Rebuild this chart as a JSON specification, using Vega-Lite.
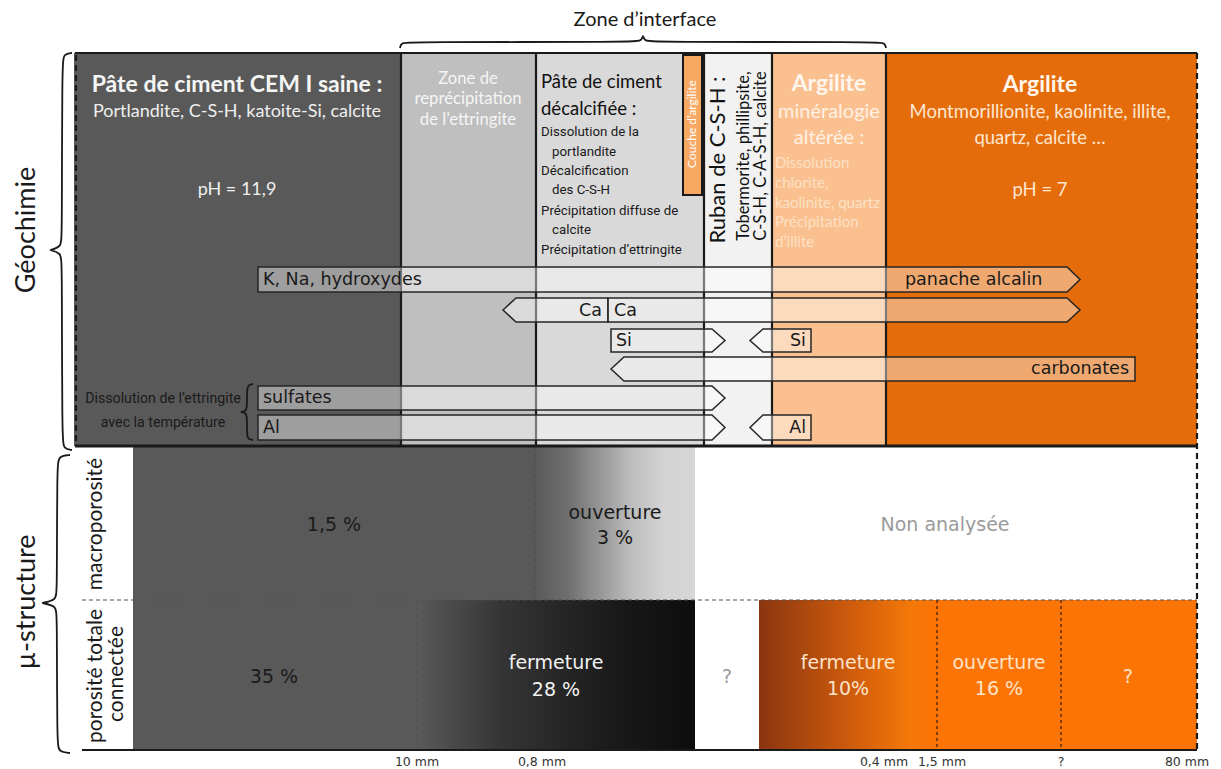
{
"$schema": "https://vega.github.io/schema/vega-lite/v6.json",
"width": 1221, "height": 769, "padding": 0,
"autosize": {"type": "fit", "contains": "padding"},
"background": "white",
"config": {"view": {"stroke": null}},
"datasets": {
"zones": [
{"x":74,"x2":401,"y":53,"y2":446,"c":"ciment sain"},
{"x":401,"x2":536,"y":53,"y2":446,"c":"reprecipitation"},
{"x":536,"x2":704,"y":53,"y2":446,"c":"decalcifiee"},
{"x":704,"x2":772,"y":53,"y2":446,"c":"ruban"},
{"x":772,"x2":886,"y":53,"y2":446,"c":"argilite alteree"},
{"x":886,"x2":1197,"y":53,"y2":446,"c":"argilite"},
{"x":133,"x2":535,"y":446,"y2":600,"c":"ciment sain"},
{"x":133,"x2":417,"y":600,"y2":750,"c":"ciment sain"},
{"x":937,"x2":1197,"y":600,"y2":750,"c":"argilite poreuse"}
],
"gradMacro": [{"x":535,"x2":695,"y":446,"y2":600}],
"gradPoro": [{"x":417,"x2":695,"y":600,"y2":750}],
"gradOrange": [{"x":759,"x2":937,"y":600,"y2":750}],
"couche": [{"x":683,"x2":702,"y":55,"y2":195}],
"solid": [
{"x":75,"x2":1197,"y":53,"y2":53},
{"x":401,"x2":401,"y":53,"y2":446},
{"x":536,"x2":536,"y":53,"y2":446},
{"x":704,"x2":704,"y":53,"y2":446},
{"x":772,"x2":772,"y":53,"y2":446},
{"x":886,"x2":886,"y":53,"y2":446},
{"x":82,"x2":1197,"y":750,"y2":750}
],
"thick": [{"x":75,"x2":1197,"y":446,"y2":446}],
"dashBlack": [{"x":76,"x2":76,"y":55,"y2":446},{"x":1197,"x2":1197,"y":53,"y2":750}],
"dashGray": [{"x":535,"x2":535,"y":446,"y2":600},{"x":417,"x2":417,"y":600,"y2":750},{"x":82,"x2":1197,"y":600,"y2":600}],
"dashOrange": [{"x":937,"x2":937,"y":600,"y2":750},{"x":1061,"x2":1061,"y":600,"y2":750}],
"arrows": [
{"id":"KNa","x":258,"y":267,"y2":292},{"id":"KNa","x":1067,"y":267,"y2":292},{"id":"KNa","x":1080,"y":279.5,"y2":279.5},
{"id":"CaL","x":503,"y":310,"y2":310},{"id":"CaL","x":516,"y":298,"y2":322},{"id":"CaL","x":608,"y":298,"y2":322},
{"id":"CaR","x":608,"y":298,"y2":322},{"id":"CaR","x":1067,"y":298,"y2":322},{"id":"CaR","x":1080,"y":310,"y2":310},
{"id":"SiR","x":611,"y":329,"y2":352},{"id":"SiR","x":712,"y":329,"y2":352},{"id":"SiR","x":725,"y":340.5,"y2":340.5},
{"id":"SiL","x":750,"y":340.5,"y2":340.5},{"id":"SiL","x":763,"y":329,"y2":352},{"id":"SiL","x":811,"y":329,"y2":352},
{"id":"carb","x":611,"y":369,"y2":369},{"id":"carb","x":624,"y":357,"y2":381},{"id":"carb","x":1135,"y":357,"y2":381},
{"id":"sulf","x":258,"y":386,"y2":410},{"id":"sulf","x":712,"y":386,"y2":410},{"id":"sulf","x":725,"y":398,"y2":398},
{"id":"AlR","x":258,"y":415,"y2":440},{"id":"AlR","x":712,"y":415,"y2":440},{"id":"AlR","x":725,"y":427.5,"y2":427.5},
{"id":"AlL","x":750,"y":427.5,"y2":427.5},{"id":"AlL","x":763,"y":415,"y2":440},{"id":"AlL","x":811,"y":415,"y2":440}
],
"braces": [
{"id":"g","i":0,"x":72,"y":53},{"id":"g","i":1,"x":64,"y":54},{"id":"g","i":2,"x":62,"y":62},{"id":"g","i":3,"x":62,"y":238},{"id":"g","i":4,"x":61,"y":247},{"id":"g","i":5,"x":50,"y":250},{"id":"g","i":6,"x":50,"y":250},{"id":"g","i":7,"x":61,"y":253},{"id":"g","i":8,"x":62,"y":262},{"id":"g","i":9,"x":62,"y":440},{"id":"g","i":10,"x":64,"y":449},{"id":"g","i":11,"x":72,"y":450},
{"id":"m","i":0,"x":70,"y":455},{"id":"m","i":1,"x":59,"y":456},{"id":"m","i":2,"x":57,"y":464},{"id":"m","i":3,"x":57,"y":592},{"id":"m","i":4,"x":56,"y":600},{"id":"m","i":5,"x":42,"y":603},{"id":"m","i":6,"x":42,"y":603},{"id":"m","i":7,"x":56,"y":606},{"id":"m","i":8,"x":57,"y":614},{"id":"m","i":9,"x":57,"y":744},{"id":"m","i":10,"x":59,"y":752},{"id":"m","i":11,"x":70,"y":753},
{"id":"e","i":0,"x":253,"y":384},{"id":"e","i":1,"x":248,"y":385},{"id":"e","i":2,"x":247,"y":390},{"id":"e","i":3,"x":247,"y":407},{"id":"e","i":4,"x":246,"y":411},{"id":"e","i":5,"x":241,"y":412},{"id":"e","i":6,"x":241,"y":412},{"id":"e","i":7,"x":246,"y":413},{"id":"e","i":8,"x":247,"y":417},{"id":"e","i":9,"x":247,"y":435},{"id":"e","i":10,"x":248,"y":439},{"id":"e","i":11,"x":253,"y":440},
{"id":"z","i":0,"x":400,"y":48},{"id":"z","i":1,"x":401,"y":43},{"id":"z","i":2,"x":408,"y":42},{"id":"z","i":3,"x":634,"y":42},{"id":"z","i":4,"x":641,"y":41},{"id":"z","i":5,"x":643,"y":36},{"id":"z","i":6,"x":643,"y":36},{"id":"z","i":7,"x":645,"y":41},{"id":"z","i":8,"x":652,"y":42},{"id":"z","i":9,"x":878,"y":42},{"id":"z","i":10,"x":885,"y":43},{"id":"z","i":11,"x":886,"y":48}
],
"tTitleWhite": [{"x":237,"y":85,"t":"Pâte de ciment CEM I saine :"}],
"tTitleArg": [{"x":1040,"y":85,"t":"Argilite"},{"x":829,"y":84,"t":"Argilite"}],
"tBodyWhite": [{"x":237,"y":112,"t":"Portlandite, C-S-H, katoite-Si, calcite"},{"x":237,"y":190,"t":"pH = 11,9"}],
"tBodyArg": [{"x":1040,"y":112,"t":"Montmorillionite, kaolinite, illite,"},{"x":1040,"y":138,"t":"quartz, calcite …"},{"x":1040,"y":190,"t":"pH = 7"}],
"tMinera": [{"x":829,"y":112,"t":"minéralogie"},{"x":829,"y":138,"t":"altérée :"}],
"tZone2": [{"x":468,"y":79,"t":"Zone de"},{"x":468,"y":99,"t":"reprécipitation"},{"x":468,"y":120,"t":"de l’ettringite"}],
"tZone3Title": [{"x":541,"y":82,"t":"Pâte de ciment"},{"x":541,"y":109,"t":"décalcifiée :"}],
"tZone3List": [{"x":541,"y":132,"t":"Dissolution de la"},{"x":552,"y":152,"t":"portlandite"},{"x":541,"y":171,"t":"Décalcification"},{"x":552,"y":190,"t":"des C-S-H"},{"x":541,"y":211,"t":"Précipitation diffuse de"},{"x":552,"y":230,"t":"calcite"},{"x":541,"y":250,"t":"Précipitation d’ettringite"}],
"tZone5List": [{"x":775,"y":163,"t":"Dissolution"},{"x":775,"y":183,"t":"chlorite,"},{"x":775,"y":203,"t":"kaolinite, quartz"},{"x":775,"y":222,"t":"Précipitation"},{"x":775,"y":242,"t":"d’illite"}],
"tEttr": [{"x":163,"y":399,"t":"Dissolution de l’ettringite"},{"x":163,"y":423,"t":"avec la température"}],
"tRuban": [{"x":718,"y":160,"t":"Ruban de C-S-H :"}],
"tRubanSub": [{"x":744,"y":156,"t":"Tobermorite, phillipsite,"},{"x":761,"y":156,"t":"C-S-H, C-A-S-H, calcite"}],
"tCouche": [{"x":692,"y":124,"t":"Couche d’argilite"}],
"tArrowL": [{"x":263,"y":280,"t":"K, Na, hydroxydes"},{"x":905,"y":280,"t":"panache alcalin"},{"x":614,"y":311,"t":"Ca"},{"x":616,"y":341,"t":"Si"},{"x":263,"y":398,"t":"sulfates"},{"x":263,"y":428,"t":"Al"}],
"tArrowR": [{"x":602,"y":311,"t":"Ca"},{"x":806,"y":341,"t":"Si"},{"x":1129,"y":369,"t":"carbonates"},{"x":806,"y":428,"t":"Al"}],
"tInterface": [{"x":645,"y":20,"t":"Zone d’interface"}],
"tSection": [{"x":27,"y":230,"t":"Géochimie"},{"x":27,"y":602,"t":"µ-structure"}],
"tRow": [{"x":96,"y":524,"t":"macroporosité"},{"x":96,"y":676,"t":"porosité totale"},{"x":117,"y":674,"t":"connectée"}],
"tBottomDark": [{"x":334,"y":525,"t":"1,5 %"},{"x":615,"y":513,"t":"ouverture"},{"x":615,"y":538,"t":"3 %"},{"x":274,"y":677,"t":"35 %"}],
"tBottomWhite": [{"x":556,"y":663,"t":"fermeture"},{"x":556,"y":690,"t":"28 %"}],
"tBottomPeach": [{"x":848,"y":663,"t":"fermeture"},{"x":848,"y":689,"t":"10%"},{"x":999,"y":663,"t":"ouverture"},{"x":999,"y":689,"t":"16 %"},{"x":1128,"y":677,"t":"?"}],
"tBottomGray": [{"x":945,"y":525,"t":"Non analysée"},{"x":727,"y":677,"t":"?"}],
"tTicks": [{"x":417,"y":762,"t":"10 mm"},{"x":542,"y":762,"t":"0,8 mm"},{"x":884,"y":762,"t":"0,4 mm"},{"x":942,"y":762,"t":"1,5 mm"},{"x":1061,"y":762,"t":"?"},{"x":1187,"y":762,"t":"80 mm"}]
},
"encoding": {
"x": {"field":"x","type":"quantitative","scale":{"domain":[0,1221],"nice":false,"zero":false},"axis":null},
"y": {"field":"y","type":"quantitative","scale":{"domain":[0,769],"nice":false,"zero":false,"reverse":true},"axis":null}
},
"layer": [
{"data":{"name":"zones"},"mark":{"type":"rect"},
 "encoding":{"x2":{"field":"x2"},"y2":{"field":"y2"},
 "color":{"field":"c","type":"nominal","legend":null,"scale":{"domain":["ciment sain","reprecipitation","decalcifiee","ruban","argilite alteree","argilite","argilite poreuse"],"range":["#595959","#bfbfbf","#d9d9d9","#f2f2f2","#fac090","#e46c0a","#fc7405"]}}}},
{"data":{"name":"gradMacro"},"mark":{"type":"rect","fill":{"gradient":"linear","x1":0,"y1":0,"x2":1,"y2":0,"stops":[{"offset":0,"color":"#5a5a5a"},{"offset":0.2,"color":"#6e6e6e"},{"offset":0.6,"color":"#bdbdbd"},{"offset":0.8,"color":"#d3d3d3"},{"offset":1,"color":"#d6d6d6"}]}},
 "encoding":{"x2":{"field":"x2"},"y2":{"field":"y2"}}},
{"data":{"name":"gradPoro"},"mark":{"type":"rect","fill":{"gradient":"linear","x1":0,"y1":0,"x2":1,"y2":0,"stops":[{"offset":0,"color":"#5a5a5a"},{"offset":0.3,"color":"#353535"},{"offset":0.7,"color":"#1a1a1a"},{"offset":1,"color":"#0d0d0d"}]}},
 "encoding":{"x2":{"field":"x2"},"y2":{"field":"y2"}}},
{"data":{"name":"gradOrange"},"mark":{"type":"rect","fill":{"gradient":"linear","x1":0,"y1":0,"x2":1,"y2":0,"stops":[{"offset":0,"color":"#8a3510"},{"offset":0.5,"color":"#cc5a0c"},{"offset":0.85,"color":"#f47808"},{"offset":1,"color":"#fc7405"}]}},
 "encoding":{"x2":{"field":"x2"},"y2":{"field":"y2"}}},
{"data":{"name":"couche"},"mark":{"type":"rect","fill":"#f7a863","stroke":"#1a1a1a","strokeWidth":2},
 "encoding":{"x2":{"field":"x2"},"y2":{"field":"y2"}}},
{"data":{"name":"dashGray"},"mark":{"type":"rule","color":"#505050","strokeWidth":1.2,"strokeDash":[4,3]},
 "encoding":{"x2":{"field":"x2"},"y2":{"field":"y2"}}},
{"data":{"name":"dashOrange"},"mark":{"type":"rule","color":"#5a2e10","strokeWidth":1.5,"strokeDash":[3,3]},
 "encoding":{"x2":{"field":"x2"},"y2":{"field":"y2"}}},
{"data":{"name":"solid"},"mark":{"type":"rule","color":"#1a1a1a","strokeWidth":2.2},
 "encoding":{"x2":{"field":"x2"},"y2":{"field":"y2"}}},
{"data":{"name":"thick"},"mark":{"type":"rule","color":"#1a1a1a","strokeWidth":3},
 "encoding":{"x2":{"field":"x2"},"y2":{"field":"y2"}}},
{"data":{"name":"dashBlack"},"mark":{"type":"rule","color":"#1a1a1a","strokeWidth":2.2,"strokeDash":[6,4]},
 "encoding":{"x2":{"field":"x2"},"y2":{"field":"y2"}}},
{"data":{"name":"arrows"},"mark":{"type":"area","fill":"#ffffff","fillOpacity":0.42,"stroke":"#262626","strokeWidth":1.5},
 "encoding":{"y2":{"field":"y2"},"detail":{"field":"id"}}},
{"data":{"name":"braces"},"mark":{"type":"line","color":"#1a1a1a","strokeWidth":1.8,"interpolate":"basis"},
 "encoding":{"order":{"field":"i","type":"quantitative"},"detail":{"field":"id"}}},
{"data":{"name":"tTitleWhite"},"mark":{"type":"text","font":"Lato","fontSize":23,"fontWeight":"bold","color":"#f5f5f5","align":"center","baseline":"middle"},"encoding":{"text":{"field":"t"}}},
{"data":{"name":"tTitleArg"},"mark":{"type":"text","font":"Lato","fontSize":23,"fontWeight":"bold","color":"#fff5ec","align":"center","baseline":"middle"},"encoding":{"text":{"field":"t"}}},
{"data":{"name":"tBodyWhite"},"mark":{"type":"text","font":"Lato","fontSize":18,"color":"#efefef","align":"center","baseline":"middle"},"encoding":{"text":{"field":"t"}}},
{"data":{"name":"tBodyArg"},"mark":{"type":"text","font":"Lato","fontSize":18.5,"color":"#fde6d2","align":"center","baseline":"middle"},"encoding":{"text":{"field":"t"}}},
{"data":{"name":"tMinera"},"mark":{"type":"text","font":"Lato","fontSize":20,"color":"#fff1e4","align":"center","baseline":"middle"},"encoding":{"text":{"field":"t"}}},
{"data":{"name":"tZone2"},"mark":{"type":"text","font":"Lato","fontSize":16.7,"color":"#f5f5f5","align":"center","baseline":"middle"},"encoding":{"text":{"field":"t"}}},
{"data":{"name":"tZone3Title"},"mark":{"type":"text","font":"Lato","fontSize":18.5,"color":"#111111","align":"left","baseline":"middle"},"encoding":{"text":{"field":"t"}}},
{"data":{"name":"tZone3List"},"mark":{"type":"text","font":"Roboto","fontSize":13.3,"color":"#1a1a1a","align":"left","baseline":"middle"},"encoding":{"text":{"field":"t"}}},
{"data":{"name":"tZone5List"},"mark":{"type":"text","font":"Lato","fontSize":15,"color":"#fde0c4","align":"left","baseline":"middle"},"encoding":{"text":{"field":"t"}}},
{"data":{"name":"tEttr"},"mark":{"type":"text","font":"Roboto","fontSize":14.2,"color":"#1a1a1a","align":"center","baseline":"middle"},"encoding":{"text":{"field":"t"}}},
{"data":{"name":"tRuban"},"mark":{"type":"text","font":"Lato","fontSize":22,"color":"#111111","align":"center","baseline":"middle","angle":270},"encoding":{"text":{"field":"t"}}},
{"data":{"name":"tRubanSub"},"mark":{"type":"text","font":"Lato","fontSize":16.5,"color":"#111111","align":"center","baseline":"middle","angle":270},"encoding":{"text":{"field":"t"}}},
{"data":{"name":"tCouche"},"mark":{"type":"text","font":"Lato","fontSize":12,"color":"#ffffff","align":"center","baseline":"middle","angle":270},"encoding":{"text":{"field":"t"}}},
{"data":{"name":"tArrowL"},"mark":{"type":"text","font":"DejaVu Sans","fontSize":17.5,"color":"#1a1a1a","align":"left","baseline":"middle"},"encoding":{"text":{"field":"t"}}},
{"data":{"name":"tArrowR"},"mark":{"type":"text","font":"DejaVu Sans","fontSize":17.5,"color":"#1a1a1a","align":"right","baseline":"middle"},"encoding":{"text":{"field":"t"}}},
{"data":{"name":"tInterface"},"mark":{"type":"text","font":"Lato","fontSize":20,"color":"#1a1a1a","align":"center","baseline":"middle"},"encoding":{"text":{"field":"t"}}},
{"data":{"name":"tSection"},"mark":{"type":"text","font":"Lato","fontSize":27,"color":"#1a1a1a","align":"center","baseline":"middle","angle":270},"encoding":{"text":{"field":"t"}}},
{"data":{"name":"tRow"},"mark":{"type":"text","font":"Lato","fontSize":21,"color":"#1a1a1a","align":"center","baseline":"middle","angle":270},"encoding":{"text":{"field":"t"}}},
{"data":{"name":"tBottomDark"},"mark":{"type":"text","font":"DejaVu Sans","fontSize":19,"color":"#1a1a1a","align":"center","baseline":"middle"},"encoding":{"text":{"field":"t"}}},
{"data":{"name":"tBottomWhite"},"mark":{"type":"text","font":"DejaVu Sans","fontSize":19,"color":"#f2f2f2","align":"center","baseline":"middle"},"encoding":{"text":{"field":"t"}}},
{"data":{"name":"tBottomPeach"},"mark":{"type":"text","font":"DejaVu Sans","fontSize":19,"color":"#fde3c8","align":"center","baseline":"middle"},"encoding":{"text":{"field":"t"}}},
{"data":{"name":"tBottomGray"},"mark":{"type":"text","font":"DejaVu Sans","fontSize":19,"color":"#9a9a9a","align":"center","baseline":"middle"},"encoding":{"text":{"field":"t"}}},
{"data":{"name":"tTicks"},"mark":{"type":"text","font":"DejaVu Sans","fontSize":12.5,"color":"#333333","align":"center","baseline":"middle"},"encoding":{"text":{"field":"t"}}}
]
}
